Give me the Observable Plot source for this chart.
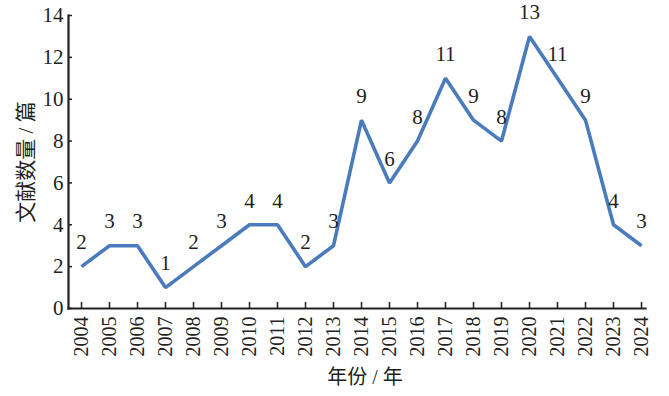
<!DOCTYPE html>
<html>
<head>
<meta charset="utf-8">
<script src="https://cdn.jsdelivr.net/npm/d3@7"></script>
<script src="https://cdn.jsdelivr.net/npm/@observablehq/plot@0.6"></script>
<style>
  html, body { margin: 0; padding: 0; background: #fff; }
  svg text { font-family: "Liberation Serif", "Noto Sans CJK SC", serif; }
</style>
</head>
<body>
<div id="chart"></div>
<script>
const years = [2004, 2005, 2006, 2007, 2008, 2009, 2010, 2011, 2012, 2013, 2014, 2015, 2016, 2017, 2018, 2019, 2020, 2021, 2022, 2023, 2024];
const counts = [2, 3, 3, 1, 2, 3, 4, 4, 2, 3, 9, 6, 8, 11, 9, 8, 13, 11, 9, 4, 3];
const yTicks = [0, 2, 4, 6, 8, 10, 12, 14];
const xTitle = "年份 / 年";
const yTitle = "文献数量 / 篇";

const data = years.map((y, i) => ({year: y, count: counts[i]}));
const serif = "Liberation Serif, Noto Sans CJK SC, serif";
const ink = "#231f20";

const chart = Plot.plot({
  width: 669,
  height: 396,
  marginLeft: 68,
  marginRight: 24,
  marginTop: 15,
  marginBottom: 88,
  style: {color: ink, background: "#fff"},
  x: {domain: [2004, 2024], range: [81, 641]},
  y: {domain: [0, 14], ticks: yTicks},
  marks: [
    Plot.axisY(yTicks, {tickSize: 0, tickPadding: 5, fontSize: 21, fontFamily: serif, label: null, fill: ink}),
    Plot.axisY(yTicks, {tickSize: 4, dx: 4, tickFormat: () => "", label: null, stroke: ink, strokeWidth: 1.5}),
    Plot.axisX(years, {tickSize: 0, tickPadding: 8, tickRotate: -90, tickFormat: d => String(d), fontSize: 20, fontFamily: serif, label: null, fill: ink}),
    Plot.axisX(years, {tickSize: 6, dy: -6, tickFormat: () => "", label: null, stroke: ink, strokeWidth: 1.5}),
    Plot.frame({anchor: "left", stroke: ink, strokeWidth: 2.2}),
    Plot.frame({anchor: "bottom", stroke: ink, strokeWidth: 2.2}),
    Plot.line(data, {x: "year", y: "count", stroke: "#4a7bbd", strokeWidth: 3.6, strokeLinejoin: "miter", strokeLinecap: "butt"}),
    Plot.text(data, {x: "year", y: "count", text: d => String(d.count), dy: -24, fontSize: 21, fontFamily: serif, fill: ink}),
    Plot.text([xTitle], {frameAnchor: "bottom", dx: 8, dy: 75, fontSize: 20, fontFamily: serif, fill: ink}),
    Plot.text([yTitle], {frameAnchor: "left", textAnchor: "middle", rotate: -90, dx: -42, fontSize: 21, fontFamily: serif, fill: ink})
  ]
});
document.getElementById("chart").appendChild(chart);
</script>
</body>
</html>
